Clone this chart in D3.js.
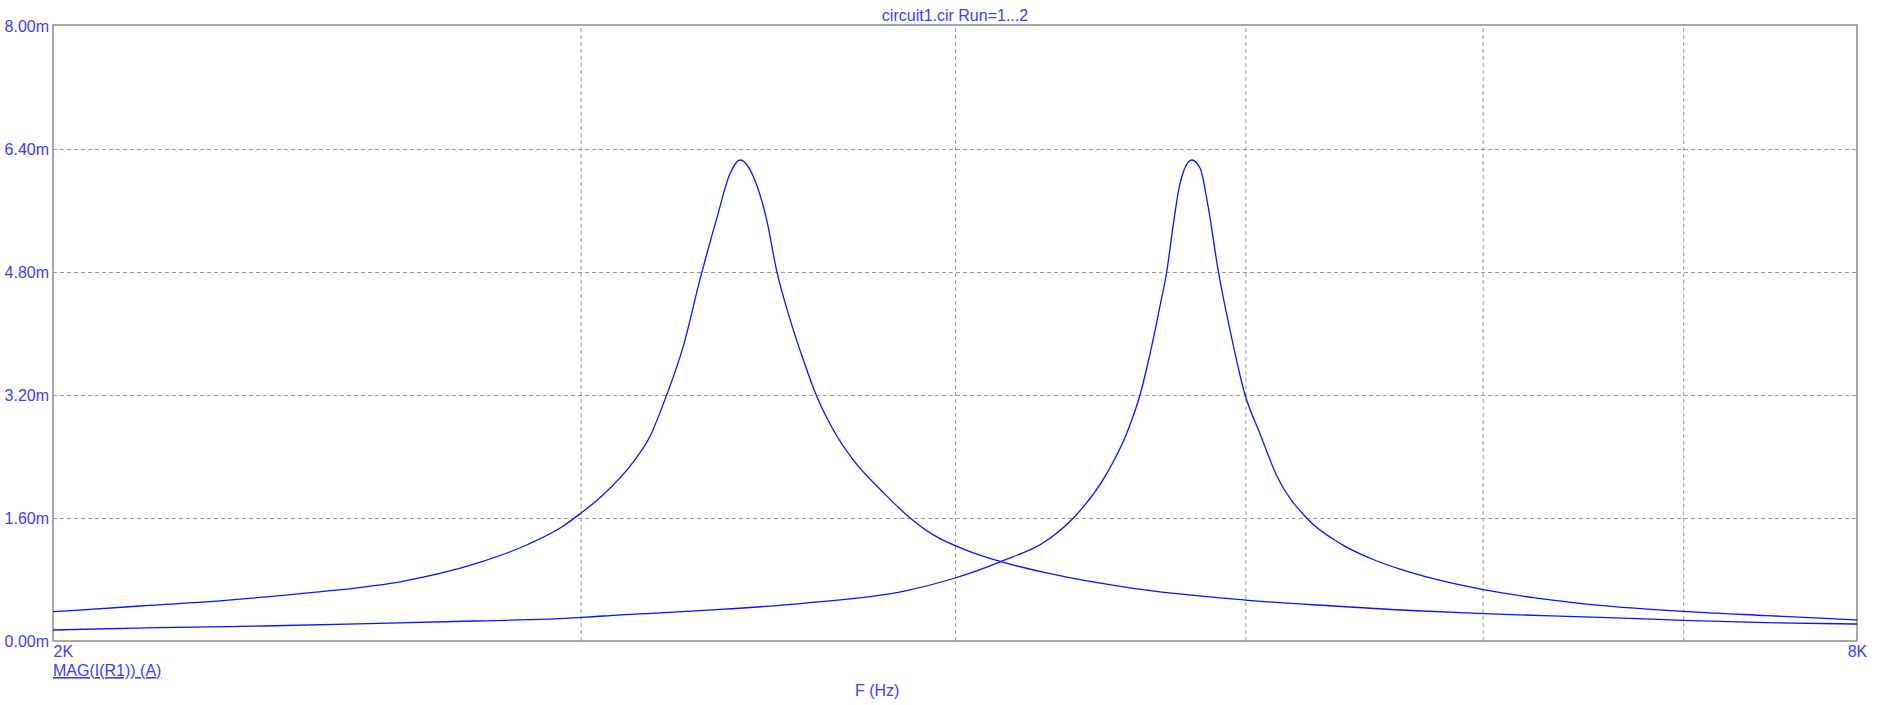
<!DOCTYPE html>
<html>
<head>
<meta charset="utf-8">
<script src="https://cdn.jsdelivr.net/npm/d3@7"></script>
<style>
  html, body { margin: 0; padding: 0; background: #ffffff; }
  svg { display: block; }
  text { font-family: "Liberation Sans", Arial, sans-serif; }
</style>
</head>
<body>
<svg id="chart" width="1887" height="705"></svg>
<script>
// ---- data ----
const title = "circuit1.cir Run=1...2";
const yLabel = "MAG(I(R1)) (A)";
const xLabel = "F (Hz)";

const xDomain = [2000, 8000];
const xGridValues = [3000, 4000, 5000, 6000, 7000];
const xTickLabels = [{ f: 2000, label: "2K" }, { f: 8000, label: "8K" }];

const yDomain = [0, 8];
const yTickValues = [0, 1.6, 3.2, 4.8, 6.4, 8.0];
const yTickLabels = ["0.00m", "1.60m", "3.20m", "4.80m", "6.40m", "8.00m"];

// Run 1 : frequency (Hz) and current (mA)
const run1Freq = [2000, 2139, 2289, 2448, 2619, 2764, 2878, 2956, 3000, 3050, 3124, 3164, 3205, 3246, 3288, 3331, 3365, 3391, 3426, 3461, 3488, 3524, 3560, 3597, 3643, 3699, 3786, 3854, 3934, 4036, 4141, 4303, 4587, 5000, 5349, 5631, 6003, 6566, 7001, 7464, 8000];
const run1Mag  = [0.381, 0.455, 0.533, 0.635, 0.78, 1.00, 1.249, 1.479, 1.66, 1.89, 2.33, 2.66, 3.20, 3.83, 4.70, 5.50, 6.08, 6.257, 6.04, 5.48, 4.81, 4.18, 3.655, 3.18, 2.745, 2.355, 1.93, 1.64, 1.38, 1.18, 1.035, 0.875, 0.685, 0.533, 0.455, 0.403, 0.355, 0.308, 0.269, 0.238, 0.221];

// Run 2 : frequency (Hz) and current (mA)
const run2Freq = [2000, 2168, 2351, 2549, 2764, 2996, 3052, 3288, 3560, 3854, 3985, 4141, 4303, 4381, 4495, 4564, 4611, 4647, 4682, 4707, 4731, 4755, 4798, 4829, 4859, 4897, 4941, 4999, 5056, 5122, 5241, 5377, 5516, 5631, 5777, 6003, 6238, 6566, 7001, 7464, 8000];
const run2Mag  = [0.143, 0.173, 0.195, 0.225, 0.26, 0.303, 0.325, 0.395, 0.49, 0.655, 0.80, 1.03, 1.336, 1.60, 2.18, 2.70, 3.20, 3.74, 4.35, 4.81, 5.43, 5.95, 6.257, 6.15, 5.65, 4.81, 4.05, 3.20, 2.70, 2.15, 1.60, 1.27, 1.06, 0.935, 0.81, 0.668, 0.565, 0.464, 0.386, 0.33, 0.273];

// ---- layout ----
const plot = { left: 53, right: 1857, top: 26, bottom: 641 };
const textColor = "#3c3cff";
const lineColor = "#1010ff";
const gridColor = "#9a9a9a";

const svg = d3.select("#chart");

const x = d3.scaleLog().domain(xDomain).range([plot.left, plot.right]);
const y = d3.scaleLinear().domain(yDomain).range([plot.bottom, plot.top]);

// horizontal grid
const yGrid = svg.append("g")
  .attr("transform", `translate(${plot.left},0)`)
  .call(d3.axisLeft(y).tickValues(yTickValues.slice(1, -1))
    .tickSize(-(plot.right - plot.left)).tickFormat(""));
yGrid.select(".domain").remove();
yGrid.selectAll("line").attr("stroke", gridColor).attr("stroke-dasharray", "4,3");

// vertical grid
const xGrid = svg.append("g")
  .attr("transform", `translate(0,${plot.bottom})`)
  .call(d3.axisBottom(x).tickValues(xGridValues)
    .tickSize(-(plot.bottom - plot.top)).tickFormat(""));
xGrid.select(".domain").remove();
xGrid.selectAll("line").attr("stroke", gridColor).attr("stroke-dasharray", "4,3");

// frame
svg.append("rect")
  .attr("x", plot.left).attr("y", plot.top - 1)
  .attr("width", plot.right - plot.left).attr("height", plot.bottom - plot.top + 1)
  .attr("fill", "none").attr("stroke", "#8c8c8c").attr("stroke-width", 1.5);

// y tick labels
const yAxis = svg.append("g")
  .attr("transform", `translate(${plot.left},0)`)
  .call(d3.axisLeft(y).tickValues(yTickValues)
    .tickFormat((d, i) => yTickLabels[i]).tickSize(0).tickPadding(4));
yAxis.select(".domain").remove();
yAxis.selectAll("text")
  .attr("fill", textColor).attr("font-size", 16)
  .attr("font-family", "'Liberation Sans', Arial, sans-serif")
  .attr("dy", "0.36em");

// x tick labels
const xAxis = svg.append("g")
  .attr("transform", `translate(0,${plot.bottom})`)
  .call(d3.axisBottom(x).tickValues(xTickLabels.map(d => d.f))
    .tickFormat((d, i) => xTickLabels[i].label).tickSize(0).tickPadding(5));
xAxis.select(".domain").remove();
xAxis.selectAll("text")
  .attr("fill", textColor).attr("font-size", 16)
  .attr("font-family", "'Liberation Sans', Arial, sans-serif")
  .attr("text-anchor", (d, i) => i === 0 ? "start" : "middle");

// clip
svg.append("clipPath").attr("id", "clip")
  .append("rect").attr("x", plot.left).attr("y", plot.top)
  .attr("width", plot.right - plot.left).attr("height", plot.bottom - plot.top);

const line = d3.line()
  .x(d => x(d[0]))
  .y(d => y(d[1]))
  .curve(d3.curveMonotoneX);

const series = [
  run1Freq.map((f, i) => [f, run1Mag[i]]),
  run2Freq.map((f, i) => [f, run2Mag[i]])
];

svg.append("g").attr("clip-path", "url(#clip)")
  .selectAll("path").data(series).join("path")
  .attr("d", line)
  .attr("fill", "none")
  .attr("stroke", lineColor)
  .attr("stroke-width", 1.3);

// title
svg.append("text")
  .attr("x", (plot.left + plot.right) / 2).attr("y", 21)
  .attr("text-anchor", "middle")
  .attr("fill", textColor).attr("font-size", 16)
  .text(title);

// y label (underlined)
svg.append("text")
  .attr("x", plot.left).attr("y", 676)
  .attr("fill", textColor).attr("font-size", 16)
  .attr("text-decoration", "underline")
  .text(yLabel);

// x label
svg.append("text")
  .attr("x", 855).attr("y", 696)
  .attr("fill", textColor).attr("font-size", 16)
  .text(xLabel);
</script>
</body>
</html>
